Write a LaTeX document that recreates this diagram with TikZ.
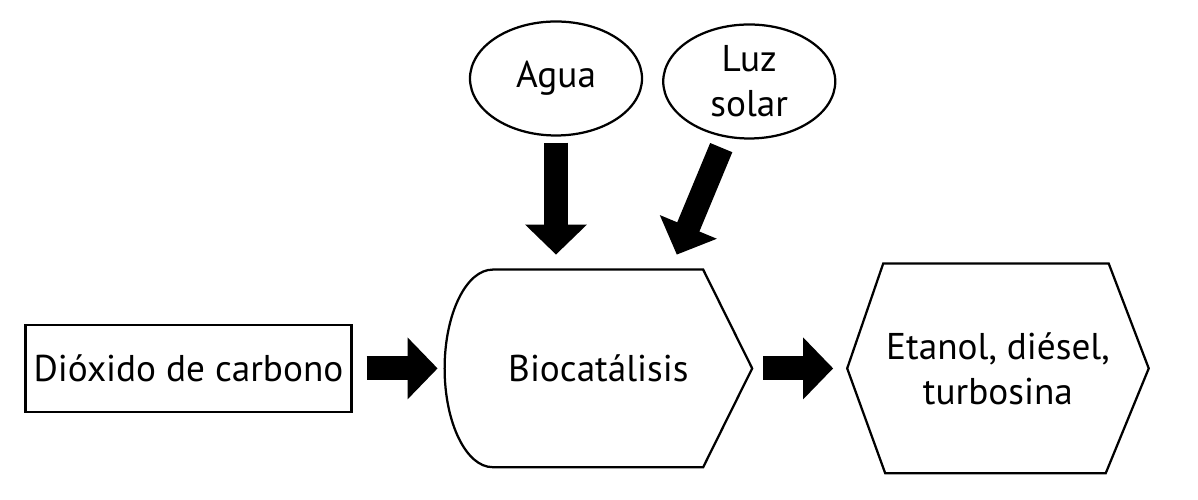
\documentclass[tikz,border=0pt]{standalone}
\usepackage{fontspec}
\setmainfont{PT Sans}
\usetikzlibrary{positioning, arrows.meta, shapes.geometric}

\begin{document}
\begin{tikzpicture}[
  font=\fontsize{26.5}{32}\selectfont,
  box/.style={inner sep=0pt, align=center},
  inbox/.style={box, draw, line width=1.6pt, minimum width=8.15cm, minimum height=2.175cm},
  feed/.style={box, ellipse, draw, line width=1.6pt, minimum width=4.3cm, minimum height=2.85cm},
  biobox/.style={box, minimum width=7.675cm, minimum height=4.925cm},
  prodbox/.style={box, minimum width=7.525cm, minimum height=5.225cm},
  outline/.style={line width=1.6pt, line join=miter},
  fat/.style={line width=0.6cm, -{Triangle[length=0.75cm, width=1.5cm]}},
]
\useasboundingbox (0,0) rectangle (29.95,12.5);
% ---- middle row: input, process, products ----
\node[biobox] (bio) at (14.96,3.29) {Biocatálisis};
\node[inbox, left=2.3cm of bio] (co2) {Dióxido de carbono};
\node[prodbox, right=2.375cm of bio] (prod) {Etanol, diésel,\\ turbosina};
% ---- top row: water and sunlight ----
\node[feed, above=3.325cm of bio.north, xshift=-1.06cm] (agua) {Agua};
\node[feed, right=0.475cm of agua, yshift=-0.075cm] (luz) {Luz\\ solar};
% ---- outlines of the two flow shapes ----
\draw[outline] (bio.west) .. controls +(0,1.36cm) and +(-0.66cm,0) .. ([xshift=1.2cm]bio.north west)
  -- ([xshift=-1.225cm]bio.north east) -- (bio.east)
  -- ([xshift=-1.225cm]bio.south east) -- ([xshift=1.2cm]bio.south west)
  .. controls +(-0.66cm,0) and +(0,-1.36cm) .. (bio.west);
\draw[outline] (prod.west) -- ([xshift=0.9cm]prod.north west)
  -- ([xshift=-1cm]prod.north east) -- (prod.east)
  -- ([xshift=-1.075cm]prod.south east) -- ([xshift=0.95cm]prod.south west) -- cycle;
% ---- arrows ----
\coordinate (luzin) at ([xshift=1.96cm, yshift=0.375cm]bio.north);
\draw[fat, shorten <=0.35cm, shorten >=0.175cm] (co2) -- (bio);
\draw[fat, shorten <=0.275cm, shorten >=0.35cm] (bio) -- (prod);
\draw[fat, shorten <=0.15cm, shorten >=0.375cm] (agua.south) -- (agua.south |- bio.north);
\draw[fat] ([xshift=-0.7cm, yshift=-0.2cm]luz.south) -- (luzin);
\end{tikzpicture}
\end{document}
